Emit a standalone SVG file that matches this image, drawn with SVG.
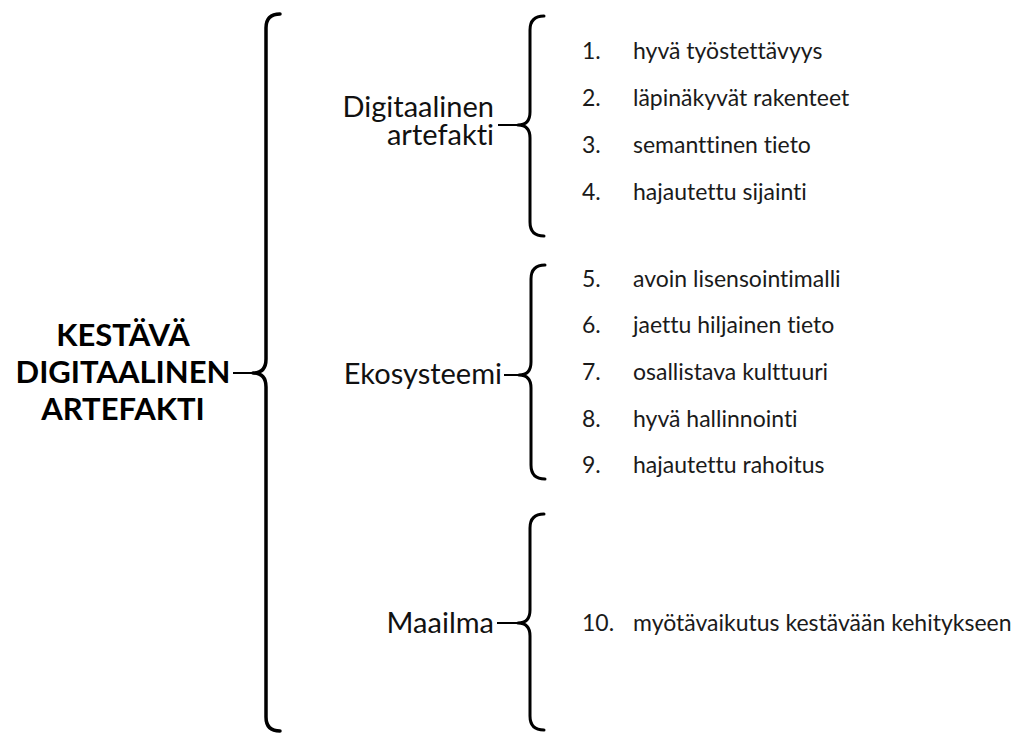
<svg xmlns="http://www.w3.org/2000/svg" width="1018" height="733" viewBox="0 0 1018 733">
<style>
.bg{fill:#ffffff}
.brace{fill:none;stroke:#000;stroke-width:3.5;stroke-linecap:round;stroke-linejoin:round}
.sub{fill:none;stroke:#000;stroke-width:3;stroke-linecap:round;stroke-linejoin:round}
.conn{fill:none;stroke:#000;stroke-width:2}
text{font-variant-ligatures:none}
.title{font-family:Lato,"Liberation Sans",sans-serif;font-weight:bold;font-size:31px;fill:#000;text-anchor:middle}
.cat{font-family:Lato,"Liberation Sans",sans-serif;font-size:29px;fill:#111;text-anchor:end}
.item{font-family:Lato,"Liberation Sans",sans-serif;font-size:23px;fill:#1a1a1a}
</style>
<rect class="bg" x="0" y="0" width="1018" height="733"/>
<g id="root">
<text class="title" x="123" y="346">KESTÄVÄ</text>
<text class="title" x="123" y="383">DIGITAALINEN</text>
<text class="title" x="123" y="420">ARTEFAKTI</text>
</g>
<g id="cat-digitaalinen">
<text class="cat" x="494" y="117">Digitaalinen</text>
<text class="cat" x="494" y="145">artefakti</text>
</g>
<g id="cat-ekosysteemi">
<text class="cat" x="502" y="384">Ekosysteemi</text>
</g>
<g id="cat-maailma">
<text class="cat" x="494" y="633">Maailma</text>
</g>
<g id="items-1">
<text class="item" x="582" y="59">1.</text><text class="item" x="633" y="59">hyvä työstettävyys</text>
<text class="item" x="582" y="106">2.</text><text class="item" x="633" y="106">läpinäkyvät rakenteet</text>
<text class="item" x="582" y="153">3.</text><text class="item" x="633" y="153">semanttinen tieto</text>
<text class="item" x="582" y="200">4.</text><text class="item" x="633" y="200">hajautettu sijainti</text>
</g>
<g id="items-2">
<text class="item" x="582" y="287">5.</text><text class="item" x="633" y="287">avoin lisensointimalli</text>
<text class="item" x="582" y="333">6.</text><text class="item" x="633" y="333">jaettu hiljainen tieto</text>
<text class="item" x="582" y="380">7.</text><text class="item" x="633" y="380">osallistava kulttuuri</text>
<text class="item" x="582" y="427">8.</text><text class="item" x="633" y="427">hyvä hallinnointi</text>
<text class="item" x="582" y="473">9.</text><text class="item" x="633" y="473">hajautettu rahoitus</text>
</g>
<g id="items-3">
<text class="item" x="582" y="631">10.</text><text class="item" x="633" y="631">myötävaikutus kestävään kehitykseen</text>
</g>
<g id="connectors">
<path class="brace" d="M280,14 Q266,14 266,28 L266,359 Q266,373 253,373 Q266,373 266,387 L266,717 Q266,731 280,731"/>
<line class="conn" x1="233" y1="373" x2="254" y2="373"/>
<path class="sub" d="M544,16 Q530,16 530,30 L530,112 Q530,125 518,125 Q530,125 530,138 L530,222 Q530,236 544,236"/>
<line class="conn" x1="498" y1="125" x2="519" y2="125"/>
<path class="sub" d="M545,265 Q531,265 531,279 L531,362 Q531,375 519,375 Q531,375 531,388 L531,465 Q531,479 545,479"/>
<line class="conn" x1="504" y1="375" x2="520" y2="375"/>
<path class="sub" d="M544,514 Q530,514 530,528 L530,610 Q530,623 518,623 Q530,623 530,636 L530,716 Q530,730 544,730"/>
<line class="conn" x1="497" y1="623" x2="519" y2="623"/>
</g>
</svg>
